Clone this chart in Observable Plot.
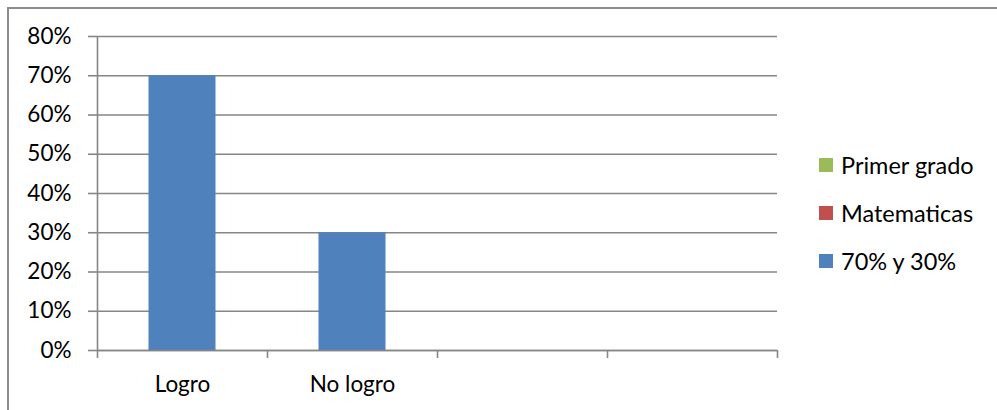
<!DOCTYPE html>
<html>
<head>
<meta charset="utf-8">
<script src="https://cdn.jsdelivr.net/npm/d3@7"></script>
<script src="https://cdn.jsdelivr.net/npm/@observablehq/plot@0.6"></script>
<style>
  html, body { margin: 0; padding: 0; background: #fff; }
  #wrap { position: relative; width: 997px; height: 410px; overflow: hidden; font-family: Lato, "Open Sans", sans-serif; }
  #frame { position: absolute; left: 7px; top: 7px; width: 1100px; height: 500px; border: 2px solid #8c8c8c; box-sizing: border-box; }
  #chart { position: absolute; left: 0; top: 0; }
  #legend { position: absolute; left: 819px; top: 141px; font-size: 23.5px; color: #000; }
  .item { display: flex; align-items: center; height: 48px; }
  .sw { width: 14px; height: 14px; margin-right: 8px; }
</style>
</head>
<body>
<div id="wrap">
  <div id="frame"></div>
  <div id="chart"></div>
  <div id="legend"></div>
</div>
<script>
// Data
const categories = ["Logro", "No logro", "", ""];
const seriesNames = ["Primer grado", "Matematicas", "70% y 30%"];
const seriesColors = ["#9BBB59", "#C0504D", "#4F81BD"];
const primerGrado = [null, null, null, null];
const matematicas = [null, null, null, null];
const valores = [0.70, 0.30, null, null];
const yTicks = [0, 0.1, 0.2, 0.3, 0.4, 0.5, 0.6, 0.7, 0.8];

const idx = categories.map((_, i) => i);
const bars = idx
  .filter(i => valores[i] != null)
  .map(i => ({i, value: valores[i], series: seriesNames[2]}));

const grey = "#868686";

const chart = Plot.plot({
  width: 800,
  height: 410,
  marginLeft: 97,
  marginRight: 23,
  marginTop: 36,
  marginBottom: 60,
  style: {fontFamily: "Lato, 'Open Sans', sans-serif", fontSize: "22.5px", color: "#000", background: "transparent"},
  x: {domain: [0, categories.length], axis: null},
  y: {domain: [0, 0.8], axis: null},
  color: {domain: seriesNames, range: seriesColors},
  marks: [
    Plot.gridY(yTicks, {stroke: grey, strokeOpacity: 1, strokeWidth: 1.6}),
    Plot.rectY(bars, {x1: d => d.i, x2: d => d.i + 1, y: "value", fill: "series", insetLeft: 51.5, insetRight: 51.5}),
    Plot.ruleX([0], {stroke: grey, strokeWidth: 1.6}),
    Plot.ruleY([0], {stroke: grey, strokeWidth: 1.6}),
    Plot.axisY(yTicks, {tickFormat: d3.format(".0%"), tickSize: 9, tickPadding: 17, stroke: grey, strokeWidth: 1.6, fill: "#000", label: null}),
    Plot.axisX(d3.range(categories.length + 1), {tickSize: 8, tickFormat: () => "", stroke: grey, strokeWidth: 1.6, label: null}),
    Plot.axisX(idx.map(i => i + 0.5), {tickSize: 0, tickPadding: 26, tickFormat: (d) => categories[Math.floor(d)], fill: "#000", label: null})
  ]
});
document.getElementById("chart").appendChild(chart);

const legend = document.getElementById("legend");
seriesNames.forEach((name, k) => {
  const item = document.createElement("div");
  item.className = "item";
  const sw = document.createElement("div");
  sw.className = "sw";
  sw.style.background = seriesColors[k];
  const t = document.createElement("span");
  t.textContent = name;
  item.appendChild(sw);
  item.appendChild(t);
  legend.appendChild(item);
});
</script>
</body>
</html>
